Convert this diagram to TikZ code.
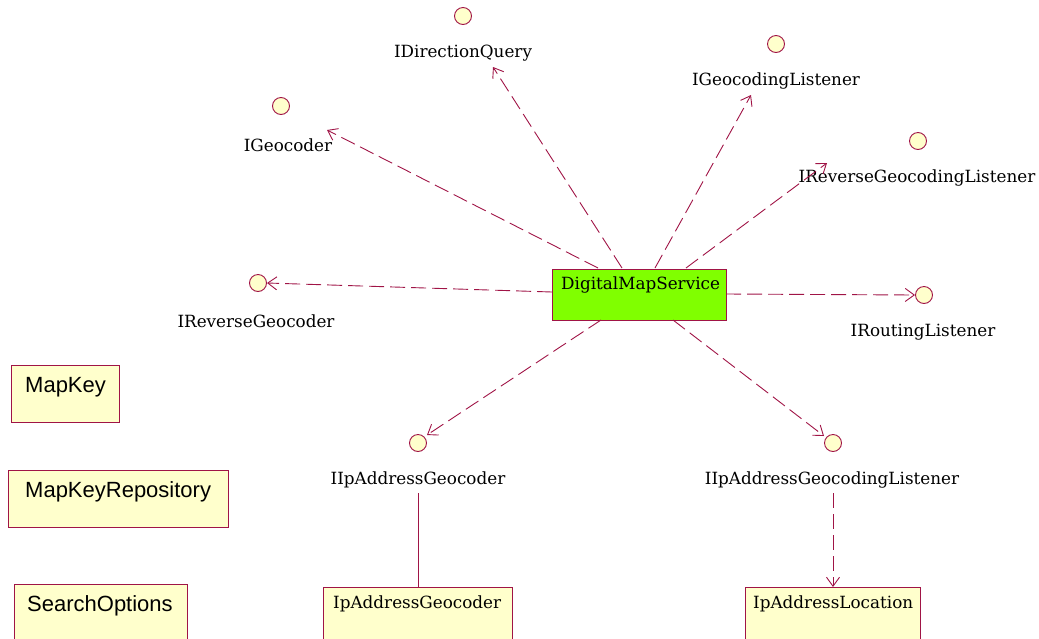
\documentclass[tikz,border=0pt]{standalone}
\usepackage{fontspec}
\setmainfont{DejaVu Serif}
\newfontfamily\boxfont{Liberation Sans}
\usetikzlibrary{arrows.meta}
\definecolor{umlred}{RGB}{160,20,70}
\definecolor{umlyellow}{RGB}{255,255,204}
\definecolor{umlgreen}{RGB}{128,255,0}
\tikzset{
  iface/.style={circle,draw=umlred,fill=umlyellow,line width=0.9pt,minimum size=17pt,inner sep=0pt},
  lbl/.style={inner sep=0pt,font=\fontsize{16.8}{19}\selectfont},
  sanslbl/.style={anchor=west,inner sep=0pt,font=\boxfont\fontsize{22}{24}\selectfont},
  dep/.style={draw=umlred,line width=0.9pt,dash pattern=on 15pt off 6pt,-{Straight Barb[length=9pt,width=13pt]}},
  real/.style={draw=umlred,line width=0.9pt},
  cls/.style={draw=umlred,fill=umlyellow,line width=0.9pt},
}
\begin{document}
\begin{tikzpicture}[x=1pt,y=-1pt]
\useasboundingbox (0,0) rectangle (1039,638);
% interface circles and labels
\node[iface] (dq) at (463,16) {};
\node[lbl] (dql) at (463,53) {IDirectionQuery};
\node[iface] (gl) at (776,44) {};
\node[lbl] (gll) at (776,81) {IGeocodingListener};
\node[iface] (gc) at (281,106) {};
\node[lbl] (gcl) at (288,145) {IGeocoder};
\node[iface] (rgl) at (918,141) {};
\node[lbl] (rgll) at (917,178) {IReverseGeocodingListener};
\node[iface] (rg) at (258,283) {};
\node[lbl] (rgl2) at (256,321) {IReverseGeocoder};
\node[iface] (rl) at (924,295) {};
\node[lbl] (rll) at (923,332) {IRoutingListener};
\node[iface] (ipg) at (418,443) {};
\node[lbl] (ipgl) at (418,480) {IIpAddressGeocoder};
\node[iface] (ipgc) at (833,443) {};
\node[lbl] (ipgcl) at (832,480) {IIpAddressGeocodingListener};
% central class
\path[draw=umlred,fill=umlgreen,line width=0.9pt] (552,269) rectangle (726,320);
\node[lbl,anchor=west] (dms) at (561,285) {DigitalMapService};
% left classes
\path[cls] (11,365) rectangle (119,422);
\node[sanslbl] (mk) at (25,387) {MapKey};
\path[cls] (8,470) rectangle (228,527);
\node[sanslbl] (mkr) at (25,492) {MapKeyRepository};
\path[cls] (14,584) rectangle (187,645);
\node[sanslbl] (so) at (27,606) {SearchOptions};
% bottom classes
\path[cls] (323,587) rectangle (512,645);
\node[lbl,anchor=west] (ipgb) at (333,604) {IpAddressGeocoder};
\path[cls] (745,587) rectangle (920,645);
\node[lbl,anchor=west] (iplb) at (753,604) {IpAddressLocation};
% connector endpoints
\coordinate (s1) at (622,268); \coordinate (e1) at (493,67);
\coordinate (s2) at (655,268); \coordinate (e2) at (751,95);
\coordinate (s3) at (598,268); \coordinate (e3) at (327,130);
\coordinate (s4) at (686,268); \coordinate (e4) at (827,163);
\coordinate (s5) at (552,292); \coordinate (e5) at (267,283);
\coordinate (s6) at (726,294); \coordinate (e6) at (915,295);
\coordinate (s7) at (601,320); \coordinate (e7) at (427,435);
\coordinate (s8) at (673,320); \coordinate (e8) at (824,436);
\coordinate (s9) at (833,493); \coordinate (e9) at (833,587);
\coordinate (s10) at (418,493); \coordinate (e10) at (418,587);
\draw[dep] (s1) -- (e1);
\draw[dep] (s2) -- (e2);
\draw[dep] (s3) -- (e3);
\draw[dep] (s4) -- (e4);
\draw[dep] (s5) -- (e5);
\draw[dep] (s6) -- (e6);
\draw[dep] (s7) -- (e7);
\draw[dep] (s8) -- (e8);
\draw[dep] (s9) -- (e9);
\draw[real] (s10) -- (e10);
\end{tikzpicture}
\end{document}
